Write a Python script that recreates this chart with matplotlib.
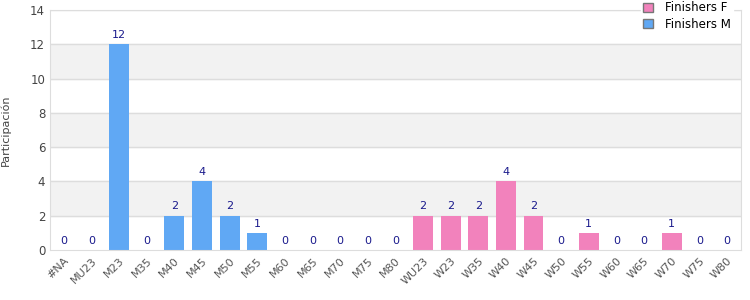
import numpy as np
import matplotlib
matplotlib.use('Agg')
import matplotlib.pyplot as plt
from matplotlib.patches import Patch

categorias = ['#NA', 'MU23', 'M23', 'M35', 'M40', 'M45', 'M50', 'M55', 'M60', 'M65', 'M70', 'M75', 'M80',
              'WU23', 'W23', 'W35', 'W40', 'W45', 'W50', 'W55', 'W60', 'W65', 'W70', 'W75', 'W80']
finishers_m = [0, 0, 12, 0, 2, 4, 2, 1, 0, 0, 0, 0, 0]
finishers_f = [2, 2, 2, 4, 2, 0, 1, 0, 0, 1, 0, 0]

azul = '#60a8f4'
rosa = '#f282bc'

fig = plt.figure(figsize=(7.5, 3), dpi=100)
ax = fig.add_axes([0.0667, 0.1667, 0.921, 0.8])

x = np.arange(len(categorias))
xm = x[:len(finishers_m)]
xf = x[len(finishers_m):]

# bandas alternas
for y0 in range(2, 14, 4):
    ax.axhspan(y0, y0 + 2, color='#f2f2f2', zorder=0)
for y in range(2, 15, 2):
    ax.axhline(y, color='#dddddd', lw=1, zorder=1)

ax.bar(xm, finishers_m, width=0.72, color=azul, zorder=2)
ax.bar(xf, finishers_f, width=0.72, color=rosa, zorder=2)

for xi, v in zip(x, finishers_m + finishers_f):
    ax.text(xi, v + 0.25, str(v), ha='center', va='bottom', fontsize=8, color='#1a1a8c', zorder=3)

ax.set_xlim(-0.5, len(categorias) - 0.5)
ax.set_ylim(0, 14)
ax.set_yticks(range(0, 15, 2))
ax.set_xticks(x)
ax.set_xticklabels(categorias, rotation=45, ha='right', rotation_mode='anchor', fontsize=8, color='#555555')
ax.tick_params(axis='y', labelsize=8.5, colors='#444444', length=0)
ax.tick_params(axis='x', length=0, pad=4)
ax.set_ylabel('Participación', fontsize=8, color='#444444', labelpad=14)

for s in ax.spines.values():
    s.set_color('#dddddd')

handles = [Patch(facecolor=rosa, edgecolor='#777777', label='Finishers F'),
           Patch(facecolor=azul, edgecolor='#777777', label='Finishers M')]
leg = ax.legend(handles=handles, loc='upper right', bbox_to_anchor=(0.997, 1.07), fontsize=8.5,
                frameon=True, fancybox=False, edgecolor='white', framealpha=1,
                handlelength=0.8, handleheight=0.8, borderpad=0.2, labelspacing=0.3,
                handletextpad=1.0)
leg.set_zorder(5)

fig.savefig('out.png', dpi=100)
